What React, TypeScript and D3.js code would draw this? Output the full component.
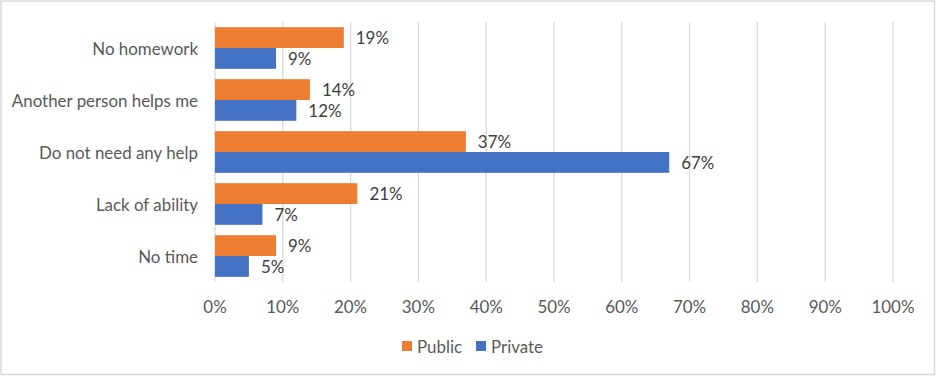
import React from "react";
import * as d3 from "d3";

const categories = ["No homework", "Another person helps me", "Do not need any help", "Lack of ability", "No time"];
const publicValues = [19, 14, 37, 21, 9];
const privateValues = [9, 12, 67, 7, 5];
const seriesNames = ["Public", "Private"];
const seriesColors = ["#ED7D31", "#4472C4"];
const xTicks = [0, 10, 20, 30, 40, 50, 60, 70, 80, 90, 100];

const W = 936;
const H = 376;
const FONT = "Lato, 'Open Sans', sans-serif";
const FS = 16.9;

export default function App() {
  const x = d3.scaleLinear().domain([0, 100]).range([215, 893]);
  const y = d3.scaleBand<string>().domain(categories).range([22, 282]).paddingInner(0.2).paddingOuter(0.1);
  const sub = d3.scaleBand<string>().domain(seriesNames).range([0, y.bandwidth()]);
  const series = [publicValues, privateValues];

  return (
    <svg width={W} height={H} style={{ position: "absolute", left: 0, top: 0, fontFamily: FONT }}>
      <rect x={1} y={1} width={W - 2.5} height={H - 2.5} fill="#fff" stroke="#D9D9D9" strokeWidth={1.5} />
      {xTicks.map((t) => (
        <g key={t}>
          <line x1={x(t)} x2={x(t)} y1={22} y2={282} stroke="#D9D9D9" strokeWidth={1.3} />
          <text x={x(t)} y={306} textAnchor="middle" dominantBaseline="central" fontSize={FS} fill="#595959">
            {t}%
          </text>
        </g>
      ))}
      {categories.map((c, i) => (
        <g key={c}>
          <text x={198} y={(y(c) as number) + y.bandwidth() / 2} textAnchor="end" dominantBaseline="central" fontSize={FS} fill="#595959">
            {c}
          </text>
          {series.map((vals, s) => {
            const by = (y(c) as number) + (sub(seriesNames[s]) as number);
            return (
              <g key={s}>
                <rect x={x(0)} y={by} width={x(vals[i]) - x(0)} height={sub.bandwidth()} fill={seriesColors[s]} />
                <text x={x(vals[i]) + 12} y={by + sub.bandwidth() / 2} dominantBaseline="central" fontSize={FS} fill="#404040">
                  {vals[i]}%
                </text>
              </g>
            );
          })}
        </g>
      ))}
      <g>
        <rect x={402} y={341} width={10} height={10} fill={seriesColors[0]} />
        <text x={417} y={346} dominantBaseline="central" fontSize={FS} fill="#595959">Public</text>
        <rect x={476} y={341} width={10} height={10} fill={seriesColors[1]} />
        <text x={491} y={346} dominantBaseline="central" fontSize={FS} fill="#595959">Private</text>
      </g>
    </svg>
  );
}
